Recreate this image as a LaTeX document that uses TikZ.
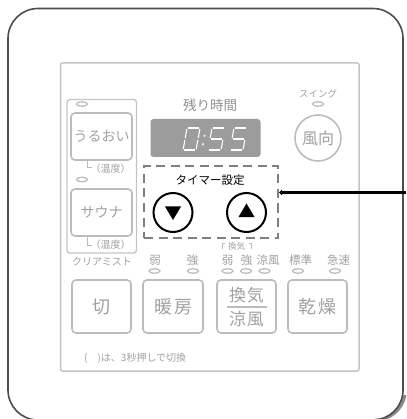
\documentclass[tikz,border=0pt]{standalone}
\usepackage{fontspec}
\setmainfont{Noto Sans CJK JP}
\usetikzlibrary{arrows.meta,shapes.geometric}
\definecolor{framec}{HTML}{4D4D4D}
\definecolor{shadowc}{HTML}{8A8A8A}
\definecolor{panc}{HTML}{C4C4C4}
\definecolor{btnc}{HTML}{BCBCBC}
\definecolor{txtc}{HTML}{A0A0A0}
\definecolor{dashc}{HTML}{7F7F7F}
\definecolor{dispc}{HTML}{9C9C9C}
\newcommand{\fs}[1]{\fontsize{#1}{#1}\selectfont}
\begin{document}
\begin{tikzpicture}[x=1pt,y=-1pt,
  btnbox/.style={draw=btnc, line width=1.6pt, rounded corners=4pt, inner sep=0pt, text=txtc},
  led/.style={draw=btnc, line width=1.3pt, ellipse, minimum width=11pt, minimum height=4.5pt, inner sep=0pt},
  lbl/.style={text=txtc, inner sep=0pt},
  seg/.style={draw=white, line width=1.1pt},
  dashbox/.style={draw=dashc, line width=2pt, dash pattern=on 9pt off 5.5pt, inner sep=0pt},
  rbtn/.style={circle, draw=black, line width=2pt, minimum size=39pt, inner sep=0pt}]
\useasboundingbox (0,0) rectangle (406,419);
% outer frame with shadow
\draw[shadowc, line width=3pt] (405,395) arc[start angle=10, end angle=90, radius=30.5] ;
\draw[framec, line width=1.6pt, rounded corners=30pt] (8,8.5) rectangle (403,420);
% inner panel
\draw[panc, line width=1.5pt, rounded corners=2pt] (60.5,63) rectangle (359,371);
% left sub-panel
\draw[panc, line width=1.3pt, rounded corners=3pt] (67,99.5) rectangle (136.5,253);
% left buttons
\node[led] (led1) at (82,104) {};
\node[btnbox, minimum width=61pt, minimum height=47pt, font=\fs{14}] (uruoi) at (101.5,136.5) {うるおい};
\coordinate (b1) at (87.5,167.5);
\draw[btnc, line width=1pt] (uruoi.south -| b1) -- (b1) -- ++(4.5,0);
\node[lbl, font=\fs{10}] (temp1) at (110.5,169) {（温度）};
\node[led] (led2) at (82,179.5) {};
\node[btnbox, minimum width=61pt, minimum height=47pt, font=\fs{14}] (sauna) at (101.5,212.5) {サウナ};
\coordinate (b2) at (87.5,245);
\draw[btnc, line width=1pt] (sauna.south -| b2) -- (b2) -- ++(4.5,0);
\node[lbl, font=\fs{10}] (temp2) at (110.5,245) {（温度）};
\node[lbl, font=\fs{10}] (mist) at (102,262) {クリアミスト};
% display
\node[lbl, text=txtc!90!black, font=\fs{13.5}] (remain) at (210,105.5) {残り時間};
\node[fill=dispc, rounded corners=3pt, minimum width=110pt, minimum height=38pt, inner sep=0pt] (display) at (205.5,138) {};
\foreach \xo/\d in {187/0,212/5,234/5}{
  \begin{scope}[shift={(\xo,128)}, xslant=0.18]
    \ifnum\d=0
      \draw[seg] (1,0)--(12,0);
      \draw[seg] (13,1)--(13,10);
      \draw[seg] (13,12)--(13,21);
      \draw[seg] (1,22)--(12,22);
      \draw[seg] (0,12)--(0,21);
      \draw[seg] (0,1)--(0,10);
    \else
      \draw[seg] (1,0)--(12,0);
      \draw[seg] (0,1)--(0,10);
      \draw[seg] (1,11)--(12,11);
      \draw[seg] (13,12)--(13,21);
      \draw[seg] (1,22)--(12,22);
    \fi
  \end{scope}
}
\begin{scope}[shift={(205,128)}, xslant=0.18]
  \fill[white] (0,7) rectangle (1.6,8.6);
  \fill[white] (0,15.5) rectangle (1.6,17.1);
\end{scope}
% swing
\node[lbl, font=\fs{9.5}] (swing) at (318,94) {スイング};
\node[led] (led3) at (318,104) {};
\node[circle, draw=btnc, line width=1.6pt, minimum size=46pt, inner sep=0pt, text=txtc, font=\fs{16}] (fukou) at (318,138) {風向};
% timer
\node[dashbox, minimum width=134pt, minimum height=72pt] (timerbox) at (211,202) {};
\node[inner sep=0pt, font=\fs{11.5}] (timerlbl) at (210,180) {タイマー設定};
\node[rbtn] (down) at (173,212.5) {};
\node[rbtn] (up) at (246.5,212.5) {};
\fill (165,206.5) -- (181,206.5) -- (173,220) -- cycle;
\fill (238.5,217) -- (254.5,217) -- (246.5,203.5) -- cycle;
\coordinate (arrowend) at (406,192.5);
\draw[{Triangle[length=3pt,width=5.5pt]}-, line width=2.5pt] (timerbox.east |- arrowend) -- (arrowend);
% ventilation bracket
\node[lbl, font=\fs{8.5}] (kanki) at (236.5,246) {換気};
\draw[btnc, line width=0.8pt] (222,249) -- (222,243.5) -- (224.5,243.5);
\draw[btnc, line width=0.8pt] (248.5,243.5) -- (251,243.5) -- (251,249);
% labels and leds
\foreach \x/\t/\n in {155/弱/l1,192.5/強/l2,227.5/弱/l3,246.5/強/l4,268/涼風/l5,300.5/標準/l6,338.5/急速/l7}{
  \node[lbl, font=\fs{11.5}] (\n) at (\x,260.5) {\t};
}
\foreach \x/\n in {154.5/d1,193/d2,227.5/d3,246/d4,264.5/d5,298/d6,335/d7}{
  \node[led] (\n) at (\x,271) {};
}
% bottom buttons
\node[btnbox, minimum width=59pt, minimum height=53pt, font=\fs{18}] (kiri) at (101.5,306.5) {切};
\node[btnbox, minimum width=60pt, minimum height=53pt, font=\fs{18}] (danbou) at (173,306.5) {暖\hspace{2pt}房};
\node[btnbox, minimum width=59pt, minimum height=53pt] (kankib) at (246.5,306.5) {};
\node[lbl, font=\fs{17}] (kanki2) at (246.5,295.5) {換\hspace{1pt}気};
\node[lbl, font=\fs{17}] (ryofu) at (246.5,319.5) {涼\hspace{1pt}風};
\draw[btnc, line width=1.2pt] (227,307) -- (267,307);
\node[btnbox, minimum width=59pt, minimum height=53pt, font=\fs{18}] (kansou) at (317.5,306.5) {乾\hspace{2pt}燥};
% note
\node[lbl, font=\fs{10}, anchor=west] (note) at (84,358) {(\hspace{10pt})は、3秒押しで切換};
\end{tikzpicture}
\end{document}
